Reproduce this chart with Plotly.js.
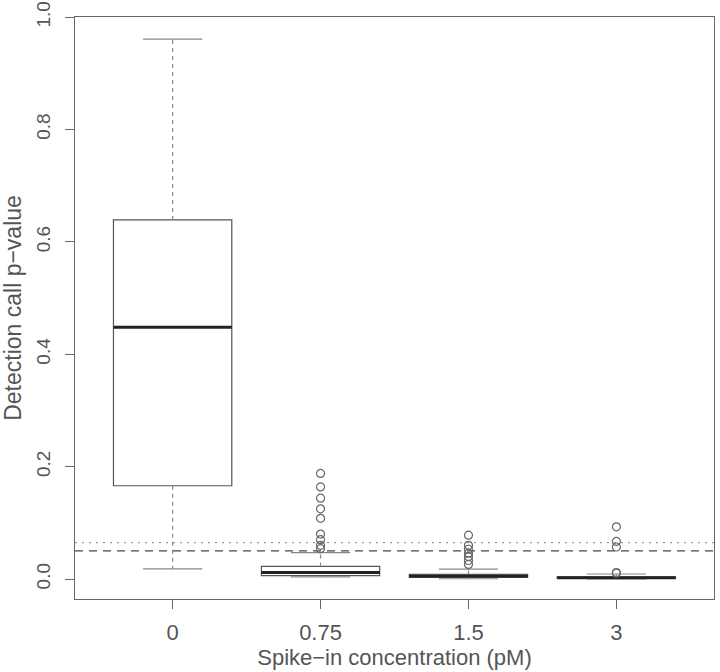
<!DOCTYPE html>
<html>
<head>
<meta charset="utf-8">
<script src="https://cdn.plot.ly/plotly-3.0.1.min.js"></script>
<style>html,body{margin:0;padding:0;background:#fff;}#chart{width:720px;height:672px;}</style>
</head>
<body>
<div id="chart"></div>
<script>
// ---- data ----
const categories = ['0', '0.75', '1.5', '3'];
const lowerWhisker = [0.018, 0.004, 0.0005, 0.0002];
const q1 = [0.166, 0.006, 0.003, 0.001];
const median = [0.448, 0.0115, 0.0055, 0.0025];
const q3 = [0.639, 0.0225, 0.0085, 0.004];
const upperWhisker = [0.961, 0.047, 0.0178, 0.009];
const outliers0 = [];
const outliers075 = [0.188, 0.164, 0.144, 0.125, 0.108, 0.080, 0.070, 0.060, 0.054];
const outliers15 = [0.078, 0.060, 0.053, 0.046, 0.040, 0.033, 0.026];
const outliers3 = [0.093, 0.067, 0.057, 0.0117, 0.0105];
const outliers = [outliers0, outliers075, outliers15, outliers3];
const thresholdDashed = 0.05;
const thresholdDotted = 0.065;
const yTicks = [0, 0.2, 0.4, 0.6, 0.8, 1.0];

// ---- styling ----
const boxWidth = 0.8;
const capWidth = boxWidth / 2;
const textColor = '#555';
const font = '"Liberation Sans", Arial, Helvetica, sans-serif';

const traces = [];
categories.forEach((c, i) => {
  const pos = i + 1;
  traces.push({
    type: 'box', x: [pos], q1: [q1[i]], median: [median[i]], q3: [q3[i]],
    lowerfence: [q1[i]], upperfence: [q3[i]], width: boxWidth,
    fillcolor: 'rgba(255,255,255,0)', line: {color: '#555', width: 1.2},
    whiskerwidth: 0, boxpoints: false, hoverinfo: 'skip', showlegend: false
  });
  traces.push({
    type: 'scatter', mode: 'lines', x: [pos, pos, null, pos, pos],
    y: [q3[i], upperWhisker[i], null, q1[i], lowerWhisker[i]],
    line: {color: '#888', width: 1.2, dash: '4px,4px'}, hoverinfo: 'skip', showlegend: false
  });
  traces.push({
    type: 'scatter', mode: 'lines',
    x: [pos - capWidth / 2, pos + capWidth / 2, null, pos - capWidth / 2, pos + capWidth / 2],
    y: [upperWhisker[i], upperWhisker[i], null, lowerWhisker[i], lowerWhisker[i]],
    line: {color: '#888', width: 1.2}, hoverinfo: 'skip', showlegend: false
  });
  traces.push({
    type: 'scatter', mode: 'lines',
    x: [pos - boxWidth / 2, pos + boxWidth / 2], y: [median[i], median[i]],
    line: {color: '#222', width: 3}, hoverinfo: 'skip', showlegend: false
  });
  if (outliers[i].length) {
    traces.push({
      type: 'scatter', mode: 'markers', x: outliers[i].map(() => pos), y: outliers[i],
      marker: {symbol: 'circle-open', size: 8, color: '#666', line: {width: 1.2, color: '#666'}},
      hoverinfo: 'skip', showlegend: false
    });
  }
});

const layout = {
  width: 720, height: 672,
  margin: {l: 75, r: 6, t: 17, b: 73},
  paper_bgcolor: '#fff', plot_bgcolor: '#fff',
  font: {family: font, color: textColor, size: 19},
  showlegend: false,
  xaxis: {
    range: [0.34, 4.66], tickmode: 'array', tickvals: categories.map((_, i) => i + 1), ticktext: categories,
    ticks: 'outside', ticklen: 9, tickcolor: '#666', tickwidth: 1,
    tickfont: {family: font, size: 22, color: textColor},
    showgrid: false, zeroline: false, showline: true, mirror: true, linecolor: '#666', linewidth: 1.2,
    ticklabelstandoff: 4,
    title: {text: 'Spike\u2212in concentration (pM)', font: {family: font, size: 22, color: textColor}, standoff: 2}
  },
  yaxis: {
    range: [-0.0355, 1.0002], tickmode: 'array', tickvals: yTicks, ticktext: yTicks.map(v => v.toFixed(1)),
    tickangle: -90, ticks: 'outside', ticklen: 9, tickcolor: '#666', tickwidth: 1,
    ticklabeloverflow: 'allow',
    tickfont: {family: font, size: 19, color: textColor},
    showgrid: false, zeroline: false, showline: true, mirror: true, linecolor: '#666', linewidth: 1.2,
    ticklabelstandoff: 7,
    title: {text: 'Detection call p\u2212value', font: {family: font, size: 23, color: textColor}, standoff: 7}
  },
  shapes: [
    {type: 'line', xref: 'paper', x0: 0, x1: 1, yref: 'y', y0: thresholdDashed, y1: thresholdDashed,
     line: {color: '#444', width: 1.2, dash: '8px,6px'}, layer: 'below'},
    {type: 'line', xref: 'paper', x0: 0, x1: 1, yref: 'y', y0: thresholdDotted, y1: thresholdDotted,
     line: {color: '#999', width: 1.2, dash: '2px,5px'}, layer: 'below'}
  ]
};

Plotly.newPlot('chart', traces, layout, {displayModeBar: false, staticPlot: true});
</script>
</body>
</html>
